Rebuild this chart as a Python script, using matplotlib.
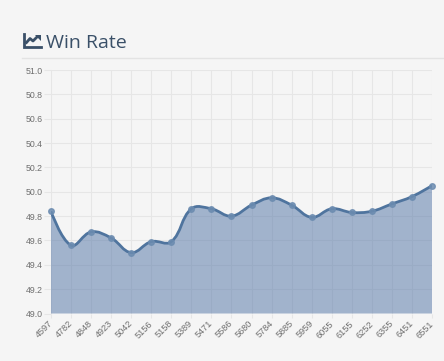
import numpy as np
import matplotlib
matplotlib.use("Agg")
import matplotlib.pyplot as plt
from matplotlib.path import Path
from matplotlib.patches import PathPatch, Polygon
from matplotlib.lines import Line2D
from matplotlib.transforms import ScaledTranslation

games = ["4597", "4782", "4848", "4923", "5042", "5156", "5158", "5389", "5471", "5586",
         "5680", "5784", "5885", "5959", "6055", "6155", "6252", "6355", "6451", "6551"]
win_rate = [49.84, 49.56, 49.67, 49.62, 49.50, 49.59, 49.59, 49.86, 49.86, 49.80,
            49.89, 49.95, 49.89, 49.79, 49.86, 49.83, 49.84, 49.90, 49.96, 50.05]
y_ticks = [49.0, 49.2, 49.4, 49.6, 49.8, 50.0, 50.2, 50.4, 50.6, 50.8, 51.0]

W, H = 444, 361
BG = "#f5f5f5"
GRID = "#e6e6e6"
LINE = "#4f749e"
FILL = "#5577a8"
TEXT = "#6e6e6e"
HEAD = "#3a5068"


def bezier_path(x, y, sx, sy, tension=0.4):
    # same smoothing the web chart uses, control points worked out in pixels
    n = len(x)
    px = np.array(x) * sx
    py = np.array(y) * sy
    verts = [(x[0], y[0])]
    codes = [Path.MOVETO]
    out_c = (px[0], py[0])
    for i in range(1, n):
        if i < n - 1:
            d1 = np.hypot(px[i] - px[i-1], py[i] - py[i-1])
            d2 = np.hypot(px[i+1] - px[i], py[i+1] - py[i])
            dx = px[i+1] - px[i-1]
            dy = py[i+1] - py[i-1]
            fa = tension * d1 / (d1 + d2)
            fb = tension * d2 / (d1 + d2)
            in_c = (px[i] - fa * dx, py[i] - fa * dy)
            next_c = (px[i] + fb * dx, py[i] + fb * dy)
        else:
            in_c = (px[i], py[i])
            next_c = in_c
        verts += [(out_c[0] / sx, out_c[1] / sy), (in_c[0] / sx, in_c[1] / sy), (x[i], y[i])]
        codes += [Path.CURVE4] * 3
        out_c = next_c
    return verts, codes


fig = plt.figure(figsize=(W / 100, H / 100), dpi=100, facecolor=BG)
ax = fig.add_axes([51 / W, 1 - 313.5 / H, 381 / W, 243.5 / H], facecolor=BG)

xs = np.arange(len(games))
ax.set_xlim(0, len(games) - 1)
ax.set_ylim(49.0, 51.0)
sx = 381 / (len(games) - 1)
sy = 243.5 / 2.0

verts, codes = bezier_path(xs, win_rate, sx, sy)
fill_verts = verts + [(xs[-1], 49.0), (xs[0], 49.0), verts[0]]
fill_codes = codes + [Path.LINETO, Path.LINETO, Path.CLOSEPOLY]

ax.grid(True, color=GRID, lw=0.75, zorder=1)
ax.set_axisbelow(True)
ax.add_patch(PathPatch(Path(fill_verts, fill_codes), fc=FILL, ec="none", alpha=0.52, zorder=2))
ax.add_patch(PathPatch(Path(verts, codes), fc="none", ec=LINE, lw=2.0, zorder=3))
ax.plot(xs, win_rate, "o", ms=4, mfc="#6c8cb0", mec="#6c8cb0", alpha=0.85, zorder=4, clip_on=False)

for s in ax.spines.values():
    s.set_visible(False)
ax.set_yticks(y_ticks)
ax.set_yticklabels(["%.1f" % v for v in y_ticks], fontsize=6.3, color=TEXT, family="Liberation Sans")
ax.set_xticks(xs)
ax.set_xticklabels(games, fontsize=6.6, color=TEXT, family="Liberation Sans", rotation=45,
                   ha="right", rotation_mode="anchor")
ax.tick_params(axis="y", length=5, width=0.75, color=GRID, pad=0.7)
ax.tick_params(axis="x", length=3, width=0.75, color=GRID, pad=1)
shift = ScaledTranslation(-3 / 100, 0, fig.dpi_scale_trans)
for lab in ax.get_xticklabels():
    lab.set_transform(lab.get_transform() + shift)

# heading, rule and the small line chart icon
fig.text(46 / W, 1 - 48 / H, "Win Rate", fontsize=14, color=HEAD, family="Open Sans", va="baseline")
fig.add_artist(Line2D([22 / W, 1], [1 - 57.5 / H] * 2, color="#e3e3e3", lw=1))
fig.add_artist(Line2D([23.5 / W, 23.5 / W, 41 / W], [1 - 34 / H, 1 - 46.5 / H, 1 - 46.5 / H], color=HEAD, lw=2,
                      solid_joinstyle="miter"))
fig.add_artist(Line2D([26.5 / W, 30 / W, 33 / W, 37 / W], [1 - 42.5 / H, 1 - 38.5 / H, 1 - 41 / H, 1 - 37 / H],
                      color=HEAD, lw=2))
fig.add_artist(Polygon([[34.5 / W, 1 - 34.5 / H], [40.5 / W, 1 - 34.5 / H], [40.5 / W, 1 - 40.5 / H]],
                       closed=True, fc=HEAD, ec="none", transform=fig.transFigure))

fig.savefig("out.png", dpi=100, facecolor=BG)
